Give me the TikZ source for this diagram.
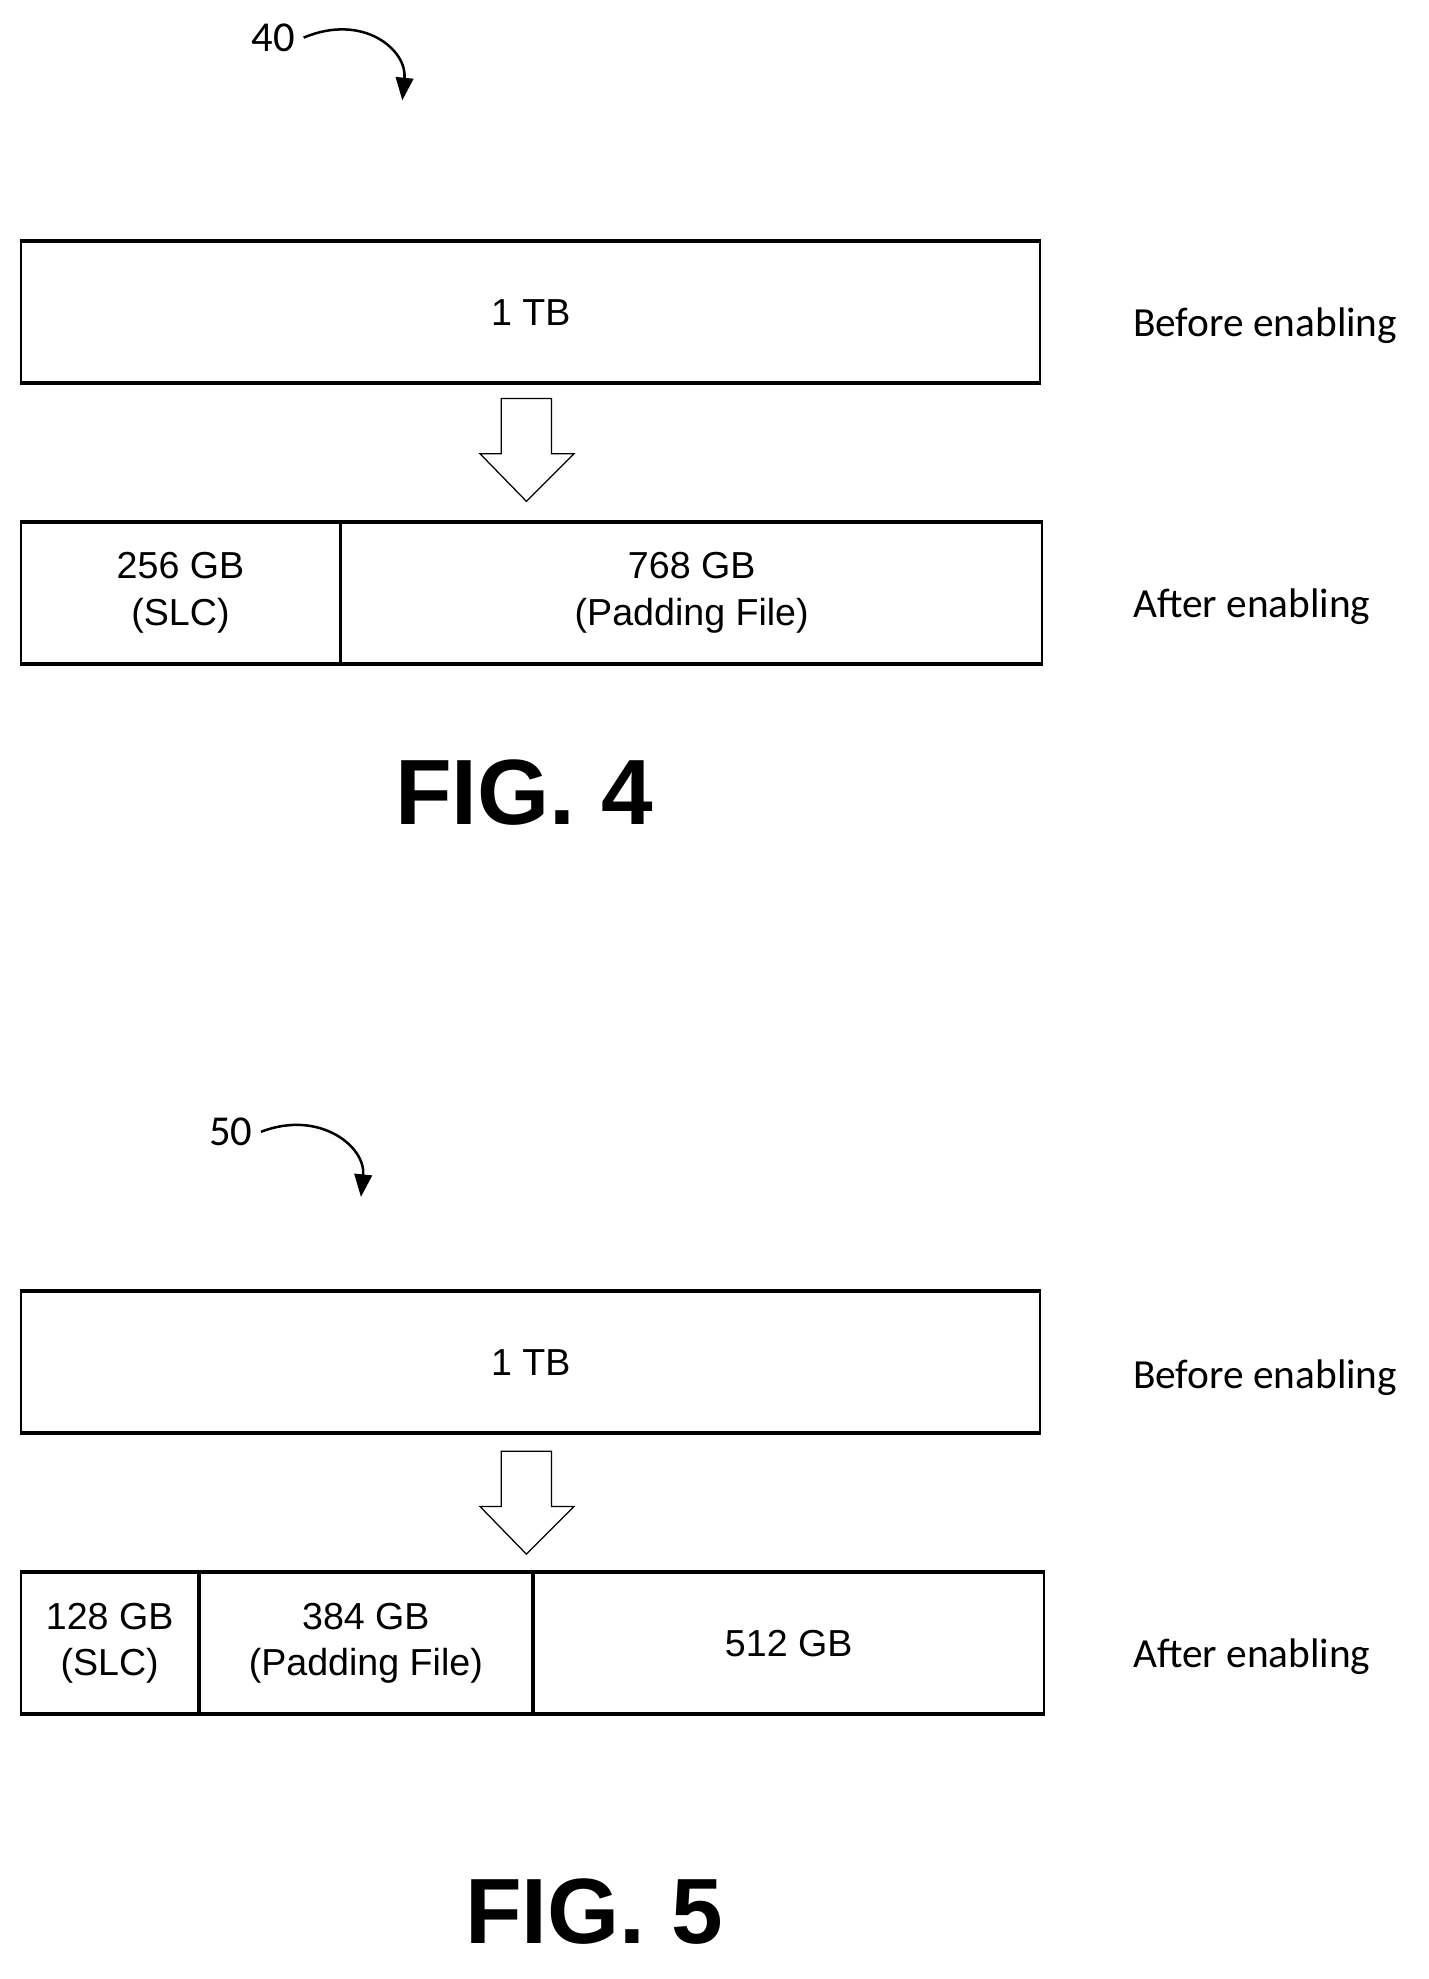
\documentclass[tikz,border=0pt]{standalone}
\usepackage{fontspec}
\setmainfont{Liberation Sans}
\newfontfamily\labelfont{Carlito}
\usetikzlibrary{positioning, arrows.meta}

\tikzset{
  block/.style={draw, line width=0.7pt, rectangle, inner sep=0pt, minimum height=56pt,
    align=center, font=\fontsize{15}{18.5}\selectfont},
  edge/.style={line width=1.6pt},
  side/.style={font=\labelfont\fontsize{16.5}{19}\selectfont, anchor=west},
  hollow/.style={draw, line width=0.5pt},
  figlabel/.style={font=\bfseries\fontsize{37}{40}\selectfont},
  refnum/.style={font=\labelfont\fontsize{17}{20}\selectfont},
  pointer/.style={line width=1pt, -{Triangle[length=9pt, width=7pt]}}
}

\begin{document}
\begin{tikzpicture}[x=0.5pt, y=-0.5pt]
  \useasboundingbox (0,0) rectangle (1140,1579);

  % FIG. 4
  \node[refnum] (n40) at (218,30) {40};
  \draw[pointer] (n40.east) .. controls (290,10) and (325,40) .. (321,80);
  \node[block, minimum width=406.5pt] (tb4) at (423.5,249) {1 TB};
  \draw[edge] (tb4.north west) -- (tb4.north east) (tb4.south west) -- (tb4.south east);
  \coordinate (tip4) at (420,400);
  \draw[hollow] (tip4) -- ++(-37,-38) -- ++(17,0) -- ++(0,-44) -- ++(40,0)
    -- ++(0,44) -- ++(18,0) -- cycle;
  \node[block, minimum width=127pt] (slc4) at (144,473) {256 GB\\(SLC)};
  \node[block, minimum width=279.5pt, right=0pt of slc4] (pad4) {768 GB\\(Padding File)};
  \draw[edge] (slc4.north west) -- (pad4.north east) (slc4.south west) -- (pad4.south east);
  \node[side] (before4) at (897,260) {Before enabling};
  \node[side] (after4) at (897,484) {After enabling};
  \node[figlabel] (fig4) at (418,632) {FIG. 4};

  % FIG. 5
  \node[refnum] (n50) at (184,903) {50};
  \draw[pointer] (n50.east) .. controls (255,885) and (292,915) .. (288,955);
  \node[block, minimum width=406.5pt] (tb5) at (423.5,1087) {1 TB};
  \draw[edge] (tb5.north west) -- (tb5.north east) (tb5.south west) -- (tb5.south east);
  \coordinate (tip5) at (420,1240);
  \draw[hollow] (tip5) -- ++(-37,-38) -- ++(17,0) -- ++(0,-44) -- ++(40,0)
    -- ++(0,44) -- ++(18,0) -- cycle;
  \node[block, minimum width=70.5pt] (slc5) at (87.5,1311) {128 GB\\(SLC)};
  \node[block, minimum width=132.5pt, right=0pt of slc5] (pad5) {384 GB\\(Padding File)};
  \node[block, minimum width=203.5pt, right=0pt of pad5] (free5) {512 GB};
  \draw[edge] (slc5.north west) -- (free5.north east) (slc5.south west) -- (free5.south east);
  \node[side] (before5) at (897,1099) {Before enabling};
  \node[side] (after5) at (897,1322) {After enabling};
  \node[figlabel] (fig5) at (474,1525) {FIG. 5};
\end{tikzpicture}
\end{document}
